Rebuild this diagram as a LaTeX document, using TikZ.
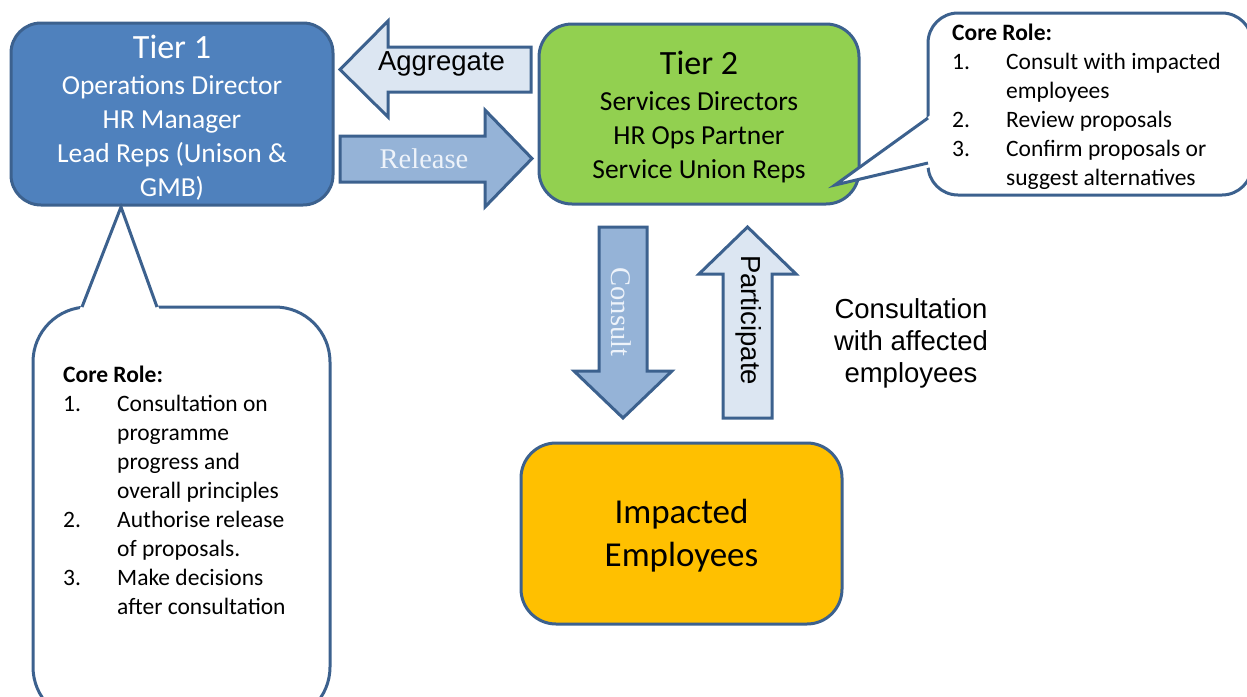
\documentclass[tikz,border=0pt]{standalone}
\usepackage{fontspec}
\setmainfont{Carlito}
\newfontfamily\arialf{Liberation Sans}
\newfontfamily\serff{Liberation Serif}
\definecolor{bord}{HTML}{3C618E}
\definecolor{tone}{HTML}{4F81BD}
\definecolor{ttwo}{HTML}{92D050}
\definecolor{imp}{HTML}{FFC000}
\definecolor{lightar}{HTML}{DCE6F2}
\definecolor{midar}{HTML}{95B3D7}
\definecolor{reltext}{HTML}{EEF3FA}
\begin{document}
\begin{tikzpicture}[x=1pt,y=-1pt,
  tierbox/.style={draw=bord,line width=3pt,inner sep=0pt},
  blockarrow/.style={draw=bord,line width=3pt,line join=miter},
  sideline/.style={draw=bord,line width=3pt,line join=miter},
  boxtext/.style={inner sep=0pt,anchor=base},
  bigtitle/.style={boxtext,font=\fontsize{34}{40}\selectfont},
  midline/.style={boxtext,font=\fontsize{27.5}{33}\selectfont},
  roletext/.style={inner sep=0pt,anchor=base west,font=\fontsize{23.5}{28}\selectfont},
  arialtext/.style={inner sep=0pt,font=\arialf\fontsize{27.5}{33}\selectfont},
  seriftext/.style={inner sep=0pt,font=\serff\fontsize{28.5}{34}\selectfont,text=reltext}]
\useasboundingbox (0,0) rectangle (1247,696);
\clip (0,0) rectangle (1247,696);

% Tier boxes
\node (t1) [tierbox,fill=tone,rounded corners=30pt,minimum width=322pt,minimum height=182pt] at (172,114) {};
\node (t2) [tierbox,fill=ttwo,rounded corners=33pt,minimum width=320pt,minimum height=180pt] at (699,114) {};
\node (ie) [tierbox,fill=imp,rounded corners=35pt,minimum width=321pt,minimum height=181pt] at (681.5,533.5) {};

% Tier 1 text
\node (t1a) [bigtitle,text=white] at (172,58) {Tier 1};
\node (t1b) [midline,text=white] at (172,94) {Operations Director};
\node (t1c) [midline,text=white] at (172,128) {HR Manager};
\node (t1d) [midline,text=white] at (172,162) {Lead Reps (Unison \&};
\node (t1e) [midline,text=white] at (172,196) {GMB)};

% Tier 2 text
\node (t2a) [bigtitle] at (699,74) {Tier 2};
\node (t2b) [midline] at (699,110) {Services Directors};
\node (t2c) [midline] at (699,144) {HR Ops Partner};
\node (t2d) [midline] at (699,178) {Service Union Reps};

% Impacted employees text
\node (iea) [boxtext,font=\fontsize{35}{42}\selectfont] at (681.5,523) {Impacted};
\node (ieb) [boxtext,font=\fontsize{35}{42}\selectfont] at (681.5,566) {Employees};

% Block arrows
\draw[blockarrow,fill=lightar] (340,69.5) -- (388,21) -- (388,47) -- (531,47) -- (531,92) -- (388,92) -- (388,117) -- cycle;
\node (agg) [arialtext,anchor=base] at (441.5,70) {Aggregate};

\draw[blockarrow,fill=midar] (340,136) -- (485,136) -- (485,110) -- (532,158.5) -- (485,207) -- (485,182) -- (340,182) -- cycle;
\node (rel) [seriftext,anchor=base] at (424,168) {Release};

\draw[blockarrow,fill=midar] (599,227) -- (647,227) -- (647,371) -- (672,371) -- (623,418) -- (574,371) -- (599,371) -- cycle;
\node (con) [seriftext,rotate=-90] at (621.5,312) {Consult};

\draw[blockarrow,fill=lightar] (723,418) -- (772,418) -- (772,274) -- (796,274) -- (747.5,227) -- (699,274) -- (723,274) -- cycle;
\node (par) [arialtext,rotate=-90] at (749,320) {Participate};

% Consultation note
\node (cna) [arialtext,anchor=base] at (911,318) {Consultation};
\node (cnb) [arialtext,anchor=base] at (911,350) {with affected};
\node (cnc) [arialtext,anchor=base] at (911,382) {employees};

% Tier 2 callout
\node (c2) [sideline,fill=white,rounded corners=30pt,minimum width=324pt,minimum height=182pt,inner sep=0pt] at (1090,104) {};
\coordinate (c2tip) at (835,185);
\fill[white] (932,114) -- (c2tip) -- (932,167) -- cycle;
\draw[sideline] (928,118) -- (c2tip) -- (928,163);
\node (c2h) [roletext,font=\bfseries\fontsize{23.5}{28}\selectfont] at (952,40) {Core Role:};
\node (c2n1) [roletext] at (952,69) {1.};
\node (c2l1) [roletext] at (1006,69) {Consult with impacted};
\node (c2l2) [roletext] at (1006,98) {employees};
\node (c2n2) [roletext] at (952,127) {2.};
\node (c2l3) [roletext] at (1006,127) {Review proposals};
\node (c2n3) [roletext] at (952,156) {3.};
\node (c2l4) [roletext] at (1006,156) {Confirm proposals or};
\node (c2l5) [roletext] at (1006,185) {suggest alternatives};

% Tier 1 callout
\node (c1) [sideline,fill=white,rounded corners=55pt,minimum width=297pt,minimum height=415pt,inner sep=0pt] at (181.5,514.5) {};
\coordinate (c1tip) at (121,207);
\fill[white] (79,311) -- (c1tip) -- (160,311) -- cycle;
\draw[sideline] (82,307) -- (c1tip) -- (157,307);
\node (c1h) [roletext,font=\bfseries\fontsize{23.5}{28}\selectfont] at (63,382) {Core Role:};
\node (c1n1) [roletext] at (63,411.5) {1.};
\node (c1l1) [roletext] at (117,411.5) {Consultation on};
\node (c1l2) [roletext] at (117,440.5) {programme};
\node (c1l3) [roletext] at (117,469.5) {progress and};
\node (c1l4) [roletext] at (117,498.5) {overall principles};
\node (c1n2) [roletext] at (63,527.5) {2.};
\node (c1l5) [roletext] at (117,527.5) {Authorise release};
\node (c1l6) [roletext] at (117,556.5) {of proposals.};
\node (c1n3) [roletext] at (63,585.5) {3.};
\node (c1l7) [roletext] at (117,585.5) {Make decisions};
\node (c1l8) [roletext] at (117,614.5) {after consultation};
\end{tikzpicture}
\end{document}
